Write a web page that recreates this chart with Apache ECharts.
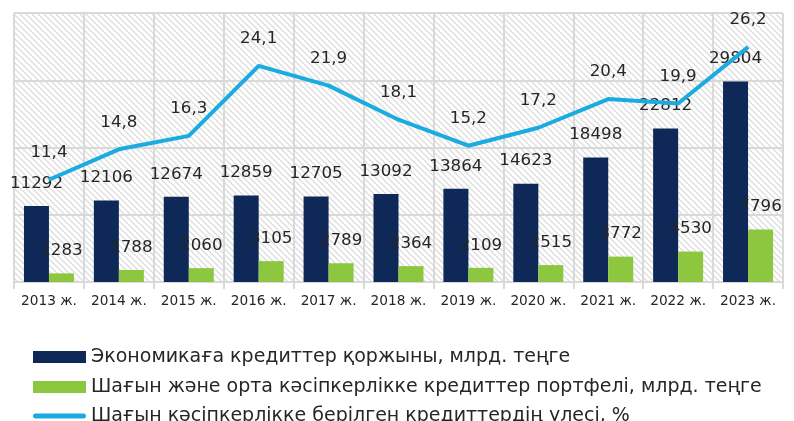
<!DOCTYPE html>
<html><head><meta charset="utf-8">
<script src="https://cdn.jsdelivr.net/npm/echarts@6/dist/echarts.min.js"></script>
<style>html,body{margin:0;padding:0;background:#fff}#c{width:794px;height:421px}</style>
</head><body><div id="c"></div>
<script>
const categories = ['2013 ж.','2014 ж.','2015 ж.','2016 ж.','2017 ж.','2018 ж.','2019 ж.','2020 ж.','2021 ж.','2022 ж.','2023 ж.'];
const loansEconomy = [11292,12106,12674,12859,12705,13092,13864,14623,18498,22812,29804];
const loansSME = [1283,1788,2060,3105,2789,2364,2109,2515,3772,4530,7796];
const smeShare = [11.4,14.8,16.3,24.1,21.9,18.1,15.2,17.2,20.4,19.9,26.2];
const seriesNames = ['Экономикаға кредиттер қоржыны, млрд. теңге','Шағын және орта кәсіпкерлікке кредиттер портфелі, млрд. теңге','Шағын кәсіпкерлікке берілген кредиттердің үлесі, %'];

const pc = document.createElement('canvas');
pc.width = 6; pc.height = 6;
const g = pc.getContext('2d');
g.fillStyle = '#ffffff'; g.fillRect(0,0,6,6);
g.strokeStyle = '#dcdcdc'; g.lineWidth = 1.3;
g.beginPath(); g.moveTo(-1,-1); g.lineTo(7,7); g.moveTo(-1,5); g.lineTo(1,7); g.moveTo(5,-1); g.lineTo(7,1); g.stroke();

const FONT = '"DejaVu Sans", "Noto Sans", sans-serif';
const mc = document.createElement('canvas').getContext('2d');
function fit(text, target) {
  mc.font = '20px ' + FONT;
  return Math.round(20 * target / mc.measureText(text).width * 10) / 10;
}
const legendSize = fit(seriesNames[0], 480);
const axisSize = fit(categories[0], 56);
const numSize = fit('12106', 53);
const comma = p => String(p.value).replace('.', ',');

const legendRows = [352, 382, 411];
const icons = ['rect', 'rect', 'path://M2.5,0 L50.5,0 A2.5,2.5 0 0 1 50.5,5 L2.5,5 A2.5,2.5 0 0 1 2.5,0 Z'];
const legends = seriesNames.map((n, i) => ({
  orient: 'vertical', left: 28, top: legendRows[i] - 11, itemWidth: 53, itemHeight: 12,
  textStyle: {fontFamily: FONT, fontSize: legendSize, lineHeight: 22, color: '#262626'},
  data: [{name: n, icon: icons[i]}]
}));

const chart = echarts.init(document.getElementById('c'));
chart.setOption({
  animation: false,
  backgroundColor: '#fff',
  grid: {left: 14, right: 11, top: 13, bottom: 139, show: true, backgroundColor: {image: pc, repeat: 'repeat'}, borderWidth: 0},
  legend: legends,
  xAxis: {
    type: 'category', data: categories, boundaryGap: true,
    axisLine: {lineStyle: {color: '#d9d9d9', width: 2}},
    axisTick: {show: true, length: 7, lineStyle: {color: '#d9d9d9', width: 2}},
    splitLine: {show: true, interval: 0, lineStyle: {color: '#d9d9d9', width: 2}},
    axisLabel: {fontFamily: FONT, fontSize: axisSize, color: '#262626', margin: 12, interval: 0}
  },
  yAxis: [
    {type: 'value', min: 0, max: 40000, interval: 10000, axisLabel: {show: false}, axisLine: {show: false}, axisTick: {show: false},
     splitLine: {lineStyle: {color: '#d9d9d9', width: 2}}},
    {type: 'value', min: 0, max: 30, interval: 7.5, axisLabel: {show: false}, axisLine: {show: false}, axisTick: {show: false}, splitLine: {show: false}}
  ],
  series: [
    {name: seriesNames[0], type: 'bar', data: loansEconomy, barWidth: 25, barGap: '0%', itemStyle: {color: '#0e2857'},
     label: {show: true, position: 'top', distance: 14, fontFamily: FONT, fontSize: numSize, color: '#262626'}},
    {name: seriesNames[1], type: 'bar', data: loansSME, barWidth: 25, barGap: '0%', itemStyle: {color: '#8dc63f'},
     label: {show: true, position: 'top', distance: 14, fontFamily: FONT, fontSize: numSize, color: '#262626'}},
    {name: seriesNames[2], type: 'line', yAxisIndex: 1, data: smeShare, symbol: 'circle', symbolSize: 1, showSymbol: true,
     itemStyle: {color: '#1aabe0'}, lineStyle: {color: '#1aabe0', width: 4},
     label: {show: true, position: 'top', distance: 18, fontFamily: FONT, fontSize: numSize, color: '#262626', formatter: comma}}
  ]
});
</script></body></html>
